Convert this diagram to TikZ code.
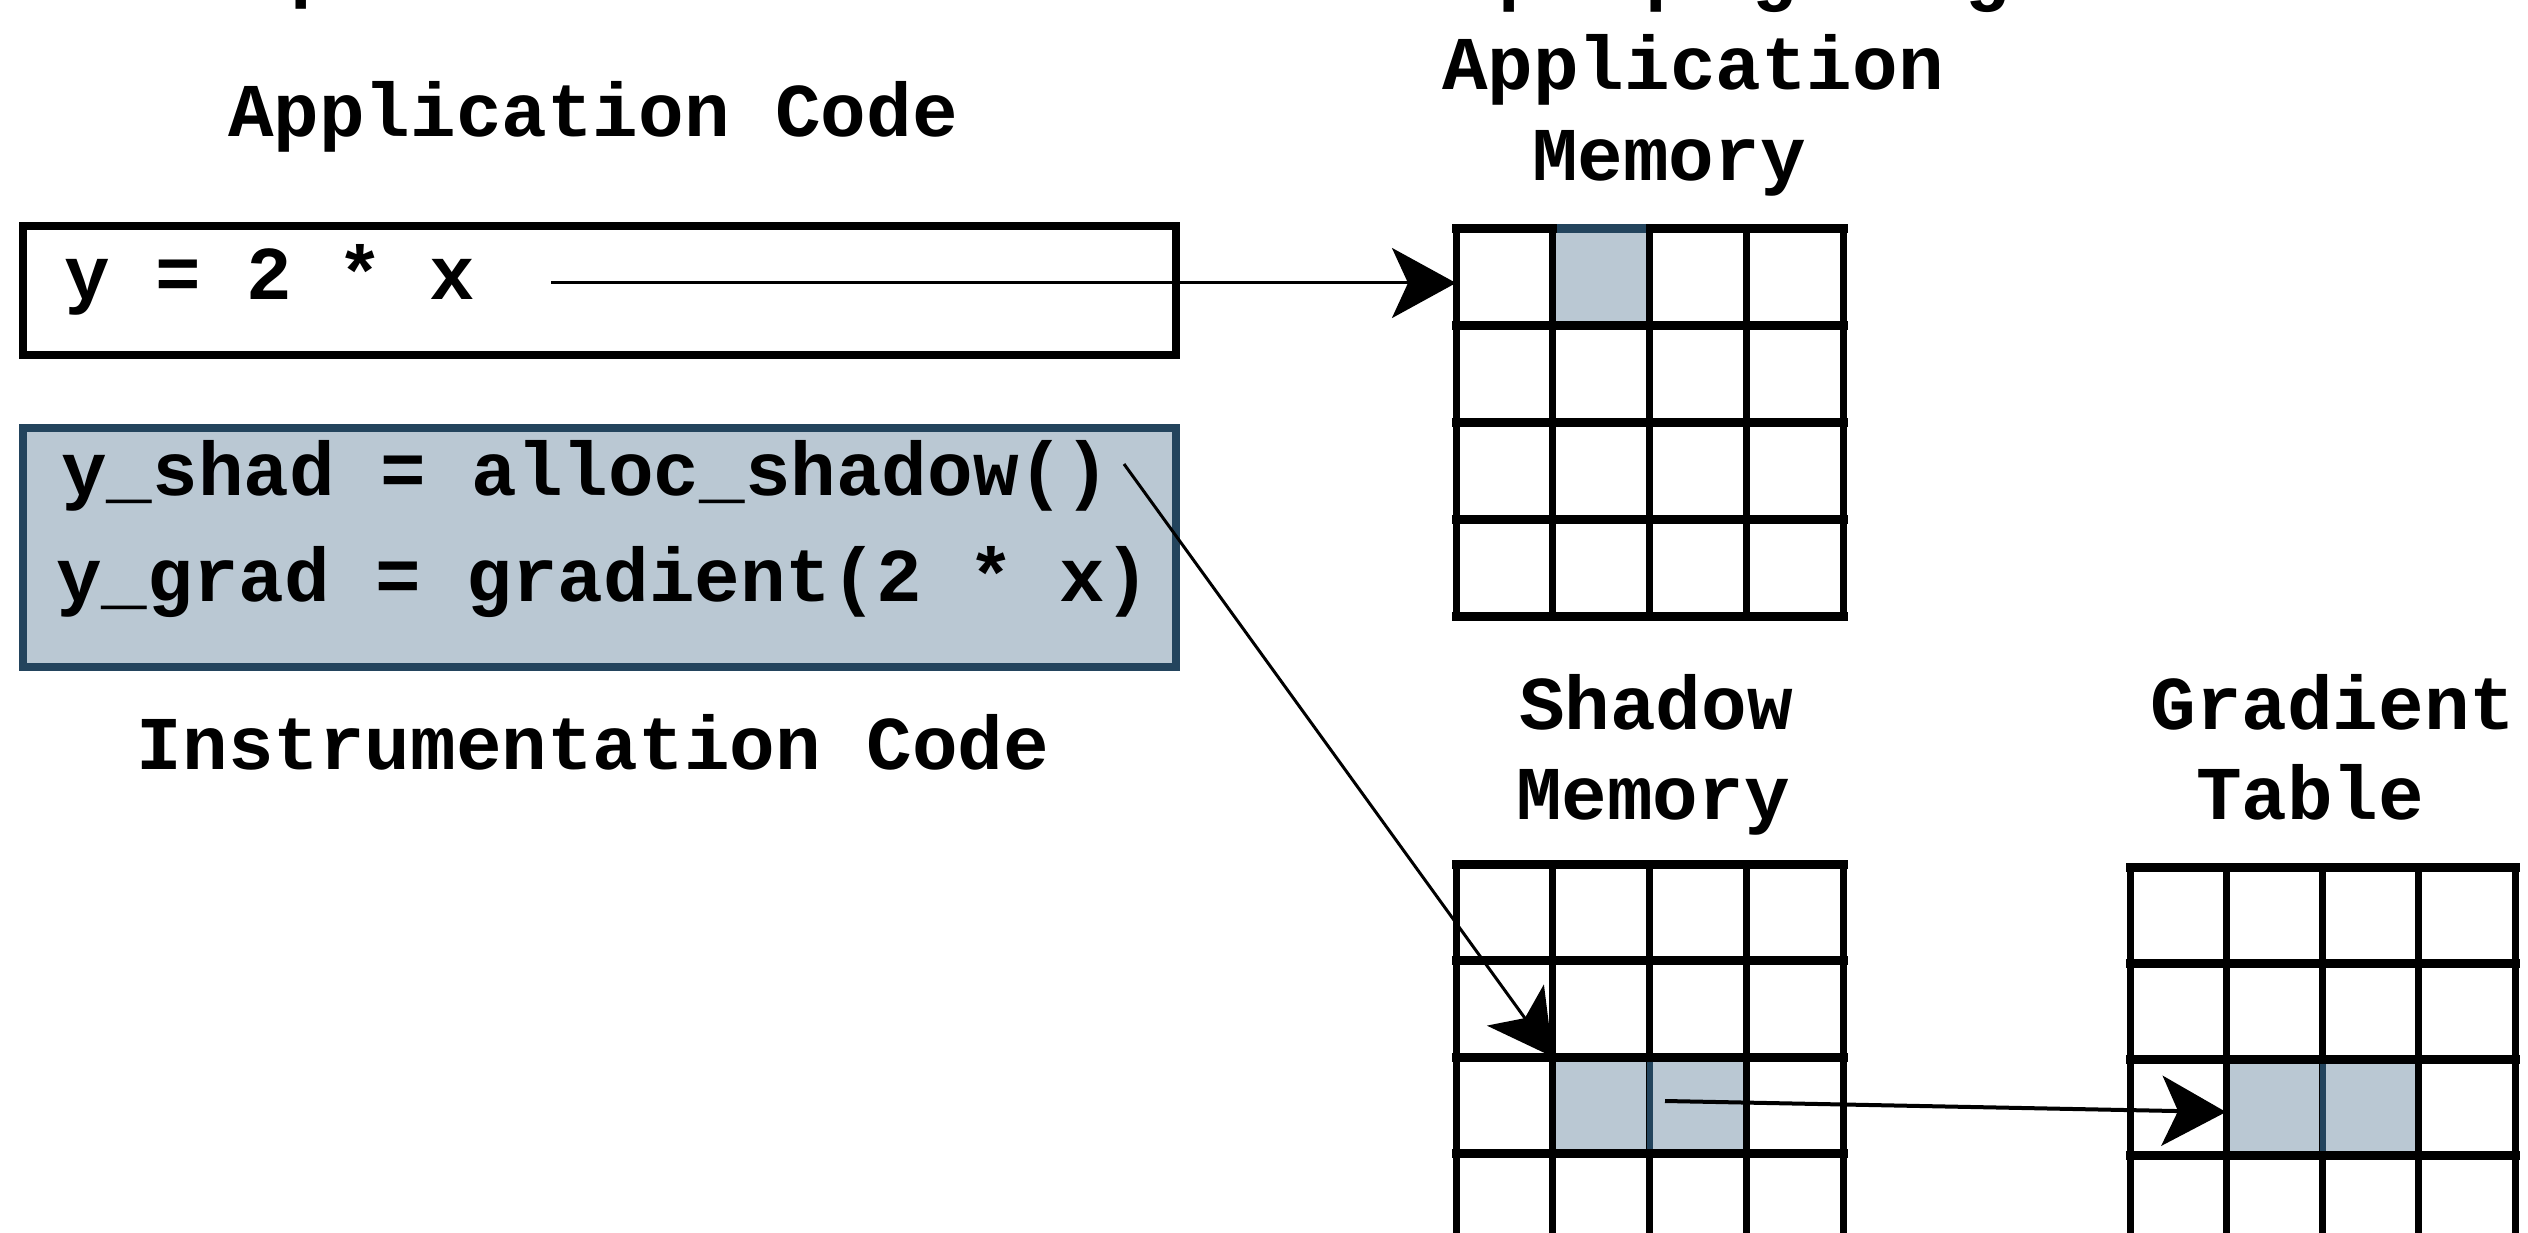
\documentclass[tikz,border=0pt]{standalone}
\usepackage{fontspec}
\setmonofont{Liberation Mono}
\usetikzlibrary{arrows.meta}
\definecolor{cellfill}{HTML}{BAC8D3}
\definecolor{cellline}{HTML}{23445D}
\begin{document}
\begin{tikzpicture}[x=1pt,y=-1pt,
  lbl/.style={font=\ttfamily\bfseries\fontsize{76}{96}\selectfont, inner sep=0pt, anchor=base},
  code/.style={lbl, anchor=base west},
  hgridln/.style={line width=9pt, line cap=rect, black},
  vgridln/.style={line width=7pt, line cap=rect, black},
  conn/.style={line width=3pt, -{Stealth[length=64pt,width=70pt,inset=16pt]}},
  gridbox/.style={minimum width=387pt, minimum height=387pt, inner sep=0pt, anchor=north west},
]
\useasboundingbox (0,0) rectangle (2528,1233);
\clip (0,0) rectangle (2528,1233);
\fill[white] (0,0) rectangle (2528,1233);

% cut-off title fragments at the top edge
\node[lbl] (tl1) at (313,-6) {p};
\node[lbl] (tr1) at (1521,-3) {p};
\node[lbl] (tr2) at (1668,-3) {p};
\node[lbl] (tr3) at (1774,-3) {g};
\node[lbl] (tr4) at (1987,-3) {g};

% left side: code
\node[lbl] (appcodelbl) at (593,137) {Application Code};
\node[draw, line width=8pt, minimum width=1153pt, minimum height=129pt, inner sep=0pt, anchor=north west] (appbox) at (19,222) {};
\node[code] (ycode) at (64,300) {y = 2 * x};
\node[draw=cellline, fill=cellfill, line width=8pt, minimum width=1153pt, minimum height=239pt, inner sep=0pt, anchor=north west] (instbox) at (19,424) {};
\node[code] (yshad) at (61,495) {y\_shad = alloc\_shadow()};
\node[code] (ygrad) at (56,601) {y\_grad = gradient(2 * x)};
\node[lbl] (instlbl) at (593,769) {Instrumentation Code};

% labels of memories
\node[lbl] (appmemlbl1) at (1693,90) {Application};
\node[lbl] (appmemlbl2) at (1669,181) {Memory};
\node[lbl] (shadlbl1) at (1656,729) {Shadow};
\node[lbl] (shadlbl2) at (1653,819) {Memory};
\node[lbl] (gradlbl1) at (2333,729) {Gradient};
\node[lbl] (gradlbl2) at (2310,819) {Table};

% grids
\node[gridbox] (appmem) at (1456,229) {};
\node[gridbox] (shadmem) at (1456,864) {};
\node[gridbox, minimum width=385pt, minimum height=385pt] (gradtab) at (2130,867) {};

% shaded cells
\fill[cellfill] (1552.75,229) rectangle (1649.5,325.75);
\fill[cellfill] (1552.75,1057) rectangle (1746.25,1153.5);
\fill[cellfill] (2226.25,1059.5) rectangle (2418.75,1155.75);

% grid lines
\foreach \i in {0,...,4} {
  \draw[hgridln] (1456,229+96.75*\i) -- (1843,229+96.75*\i);
  \draw[vgridln] (1456+96.75*\i,229) -- (1456+96.75*\i,616);
  \draw[hgridln] (1456,864+96.5*\i) -- (1843,864+96.5*\i);
  \draw[vgridln] (1456+96.75*\i,864) -- (1456+96.75*\i,1250);
  \draw[hgridln] (2130,867+96.25*\i) -- (2515,867+96.25*\i);
  \draw[vgridln] (2130+96.25*\i,867) -- (2130+96.25*\i,1252);
}
% dark edges of shaded cells
\draw[line width=9pt, cellline] (1556.5,229) -- (1645.75,229);
\draw[line width=6pt, cellline] (1649.5,1061.5) -- (1649.5,1149);
\draw[line width=6pt, cellline] (2322.5,1064) -- (2322.5,1151.25);

% connectors
\coordinate (c1s) at (551,283);
\coordinate (c1e) at (1456,283);
\coordinate (c2s) at (1124,464);
\coordinate (c2e) at (1553,1057);
\coordinate (c3s) at (1665,1101);
\coordinate (c3e) at (2226,1112);
\draw[conn] (c1s) -- (c1e);
\draw[conn] (c2s) -- (c2e);
\draw[conn, line width=4pt] (c3s) -- (c3e);
\end{tikzpicture}
\end{document}
